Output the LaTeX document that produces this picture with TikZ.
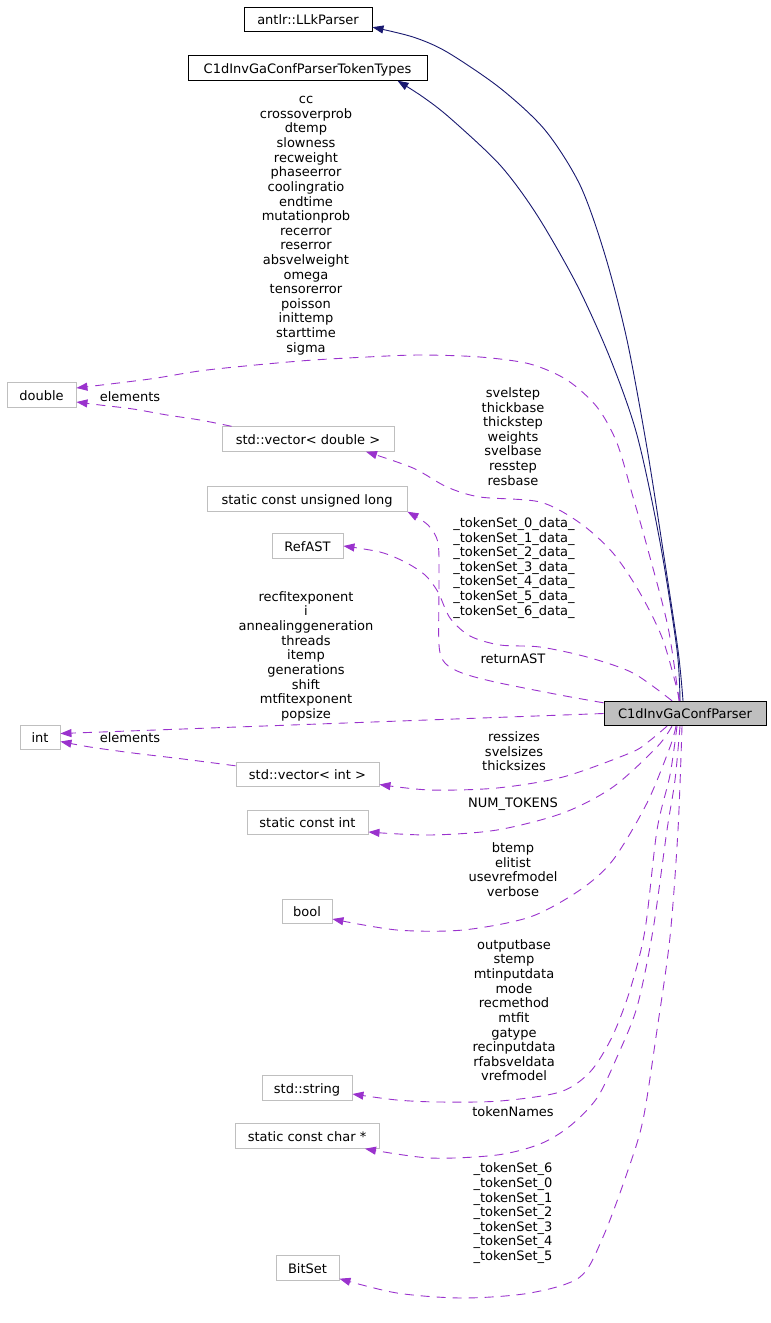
\documentclass[tikz,border=0pt]{standalone}
\usepackage{fontspec}
\setmainfont{DejaVu Sans}
\usepackage{xcolor}
\definecolor{edgepurple}{HTML}{9A32CD}
\definecolor{edgenavy}{HTML}{191970}
\definecolor{boxgray}{HTML}{BFBFBF}
\usepackage{tikz}
\usetikzlibrary{arrows.meta,calc,positioning}
\tikzset{
	cls/.style = {rectangle,draw=black,fill=white,line width=0.9pt,
		inner sep=0pt,minimum height=24.5pt,text height=10pt,text depth=0pt},
	typ/.style = {cls,draw=boxgray},
	cur/.style = {cls,fill=boxgray},
	lbl/.style = {align=center,inner sep=0pt,
		execute at begin node=\strut,execute at end node=\strut},
	inh/.style = {-{Triangle[length=11pt,width=8pt]},edgenavy,line width=0.9pt},
	mem/.style = {-{Triangle[length=11pt,width=8pt]},edgepurple,line width=0.9pt,
		dash pattern=on 9pt off 7pt},
}
\begin{document}
\begin{tikzpicture}[x=1pt,y=-1pt,font=\fontsize{13}{14.62}\selectfont]
	\useasboundingbox (0,0) rectangle (771,1323);
	
	%% Classe documentee
	\node (c1d) [cur,minimum width=162pt] at (685,713.5) {C1dInvGaConfParser};
	
	%% Classes de base
	\node (llk)      [cls,minimum width=128pt] at (308,19.5) {antlr::LLkParser};
	\node (toktypes) [cls,minimum width=239pt] at (307.5,68) {C1dInvGaConfParserTokenTypes};
	
	%% Types des membres
	\node (dbl)    [typ,minimum width=69pt]  at (41.5,395)   {double};
	\node (vecd)   [typ,minimum width=172pt] at (308,439)    {std::vector< double >};
	\node (ulong)  [typ,minimum width=200pt] at (307,499)    {static const unsigned long};
	\node (refast) [typ,minimum width=71pt]  at (307.5,546)  {RefAST};
	\node (int)    [typ,minimum width=40pt]  at (40,737.5)   {int};
	\node (veci)   [typ,minimum width=143pt] at (307.5,774.5){std::vector< int >};
	\node (sint)   [typ,minimum width=121pt] at (307.5,822.5){static const int};
	\node (bool)   [typ,minimum width=50pt]  at (307,911.5)  {bool};
	\node (str)    [typ,minimum width=90pt]  at (307,1088)   {std::string};
	\node (schar)  [typ,minimum width=144pt] at (307,1136)   {static const char *};
	\node (bitset) [typ,minimum width=63pt]  at (307.5,1268) {BitSet};
	
	%% Etiquettes
	\node (ldbl) [lbl] at (306,226.5) {cc\\crossoverprob\\dtemp\\slowness\\recweight\\
		phaseerror\\coolingratio\\endtime\\mutationprob\\recerror\\reserror\\
		absvelweight\\omega\\tensorerror\\poisson\\inittemp\\starttime\\sigma};
	\node (ldelem) [lbl] at (130,398.3) {elements};
	\node (lvecd) [lbl] at (513,438.6) {svelstep\\thickbase\\thickstep\\weights\\
		svelbase\\resstep\\resbase};
	\node (lulong) [lbl] at (514,568.5) {\_tokenSet\_0\_data\_\\\_tokenSet\_1\_data\_\\
		\_tokenSet\_2\_data\_\\\_tokenSet\_3\_data\_\\\_tokenSet\_4\_data\_\\
		\_tokenSet\_5\_data\_\\\_tokenSet\_6\_data\_};
	\node (lrefast) [lbl] at (513,660.6) {returnAST};
	\node (lint) [lbl] at (306,657.1) {recfitexponent\\i\\annealinggeneration\\threads\\
		itemp\\generations\\shift\\mtfitexponent\\popsize};
	\node (lielem) [lbl] at (130,739.9) {elements};
	\node (lveci) [lbl] at (514,753.4) {ressizes\\svelsizes\\thicksizes};
	\node (lsint) [lbl] at (513,805) {NUM\_TOKENS};
	\node (lbool) [lbl] at (513,871.9) {btemp\\elitist\\usevrefmodel\\verbose};
	\node (lstr) [lbl] at (514,1012.4) {outputbase\\stemp\\mtinputdata\\mode\\recmethod\\
		mtfit\\gatype\\recinputdata\\rfabsveldata\\vrefmodel};
	\node (lschar) [lbl] at (513,1114) {tokenNames};
	\node (lbitset) [lbl] at (513,1213.9) {\_tokenSet\_6\\\_tokenSet\_0\\\_tokenSet\_1\\
		\_tokenSet\_2\\\_tokenSet\_3\\\_tokenSet\_4\\\_tokenSet\_5};
	
	%% Points d'attache
	\coordinate (tllk)   at ($(c1d.north)+(-2,0)$);
	\coordinate (ttok)   at ($(c1d.north)+(-5,0)$);
	\coordinate (tdbl)   at ($(c1d.north)+(-6,0)$);
	\coordinate (tvecd)  at ($(c1d.north)+(-5,0)$);
	\coordinate (trefast)at ($(c1d.north)+(-13,0)$);
	\coordinate (tulong) at ($(c1d.north west)+(0,2)$);
	\coordinate (bveci)  at ($(c1d.south)+(-18,0)$);
	\coordinate (bsint)  at ($(c1d.south)+(-13,0)$);
	\coordinate (bbool)  at ($(c1d.south)+(-9,0)$);
	\coordinate (bstr)   at ($(c1d.south)+(-8,0)$);
	\coordinate (bschar) at ($(c1d.south)+(-5,0)$);
	\coordinate (bbits)  at ($(c1d.south)+(-3,0)$);
	
	\coordinate (llktip)  at ($(llk.south east)+(0,-5)$);
	\coordinate (toktip)  at ($(toktypes.south)+(90,0)$);
	\coordinate (dbltip)  at ($(dbl.east)+(0,-7)$);
	\coordinate (dbltip2) at ($(dbl.east)+(0,7)$);
	\coordinate (vecdtip) at ($(vecd.south)+(58,0)$);
	\coordinate (vecdsrc) at ($(vecd.north west)+(10,0)$);
	\coordinate (inttip)  at ($(int.east)+(0,-4)$);
	\coordinate (inttip2) at ($(int.east)+(0,4)$);
	\coordinate (vecisrc) at ($(veci.north west)+(0,4)$);
	\coordinate (vecitip) at ($(veci.east)+(0,10)$);
	\coordinate (sinttip) at ($(sint.east)+(0,9.5)$);
	\coordinate (booltip) at ($(bool.east)+(0,7.5)$);
	\coordinate (strtip)  at ($(str.east)+(0,6)$);
	\coordinate (schartip)at ($(schar.south)+(58,0)$);
	\coordinate (bitstip) at ($(bitset.south east)+(0,-2)$);
	
	%% Heritage
	\draw[inh] plot[smooth] coordinates {(tllk) (678,650) (663,550) (647,448) (627,340)
		(605,255) (580,185) (545,130) (500,88) (447,52) (413,37) (llktip)};
	\draw[inh] plot[smooth] coordinates {(ttok) (677,650) (660,542) (637,435) (610,358)
		(577,285) (537,215) (500,165) (450,118) (423,97) (toktip)};
	
	%% Membres
	\draw[mem] plot[smooth] coordinates {(tdbl) (668,627) (648,550) (633,497) (617,443)
		(597,407) (567,380) (530,364) (480,357) (420,355) (367,357) (300,361)
		(207,370) (150,379) (dbltip)};
	\draw[mem] plot[smooth] coordinates {(vecdsrc) (200,420) (167,415) (133,409)
		(100,405) (dbltip2)};
	\draw[mem] plot[smooth] coordinates {(tvecd) (663,640) (640,593) (613,553) (580,523)
		(540,502) (480,497) (447,487) (413,468) (vecdtip)};
	\draw[mem] plot[smooth] coordinates {(tulong) (560,695) (495,682) (462,673) (445,663)
		(439,645) (439,583) (438,543) (428,525) (ulong.south east)};
	\draw[mem] plot[smooth] coordinates {(trefast) (633,673) (587,657) (540,647) (500,645)
		(470,636) (450,618) (438,592) (425,575) (405,562) (380,552) (refast.east)};
	\draw[mem] (c1d.west) -- (inttip);
	\draw[mem] plot[smooth] coordinates {(vecisrc) (183,759) (133,753) (90,747) (inttip2)};
	\draw[mem] plot[smooth] coordinates {(bveci) (648,742) (630,753) (563,777) (497,788)
		(430,790) (vecitip)};
	\draw[mem] plot[smooth] coordinates {(bsint) (657,747) (613,787) (563,813) (497,830)
		(430,835) (sinttip)};
	\draw[mem] plot[smooth] coordinates {(bbool) (670,747) (647,803) (613,860) (580,890)
		(530,917) (463,930) (397,930) (booltip)};
	\draw[mem] plot[smooth] coordinates {(bstr) (670,775) (657,830) (645,930) (630,990)
		(612,1037) (590,1072) (560,1092) (500,1101) (440,1102) (397,1100) (strtip)};
	\draw[mem] plot[smooth] coordinates {(bschar) (675,780) (667,830) (653,930) (637,1007)
		(617,1057) (597,1098) (570,1126) (540,1144) (497,1155) (430,1158) (schartip)};
	\draw[mem] plot[smooth] coordinates {(bbits) (678,830) (670,937) (657,1030) (643,1120)
		(627,1173) (603,1237) (580,1277) (530,1293) (463,1298) (397,1293) (bitstip)};
\end{tikzpicture}
\end{document}
